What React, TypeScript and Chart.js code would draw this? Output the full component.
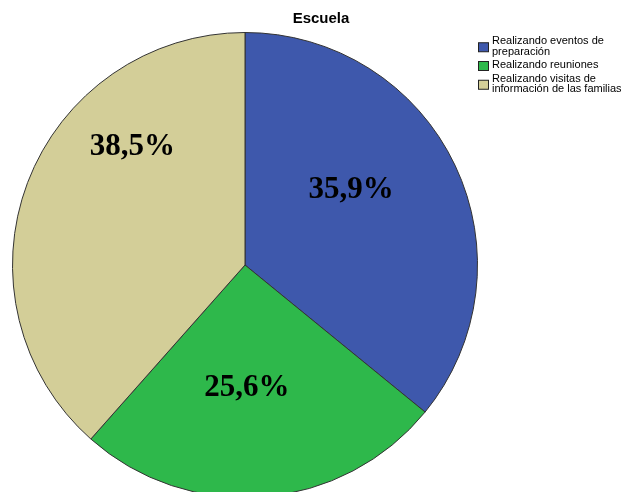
import React, { useEffect, useRef } from "react";
import { Chart, registerables } from "chart.js";

Chart.register(...registerables);

const title = "Escuela";
const categories = [
  ["Realizando eventos de", "preparación"],
  ["Realizando reuniones"],
  ["Realizando visitas de", "información de las familias"],
];
const counts = [14, 10, 15];
const percentLabels = ["35,9%", "25,6%", "38,5%"];
const colors = ["#3e58ac", "#2eb84b", "#d3ce98"];

const W = 621;
const H = 498;

const labelPlacement = [
  { shift: -10, frac: 0.56 },
  { shift: 3.7, frac: 0.53 },
  { shift: 25.5, frac: 0.7 },
];

const overlayPlugin = {
  id: "overlay",
  afterDatasetsDraw(chart: any) {
    const ctx = chart.ctx;
    const meta = chart.getDatasetMeta(0);
    ctx.save();
    // slice percent labels
    ctx.font = "bold 31px 'Liberation Serif', 'Times New Roman', serif";
    ctx.fillStyle = "#000";
    ctx.textAlign = "center";
    ctx.textBaseline = "middle";
    meta.data.forEach((arc: any, i: number) => {
      const p = arc.getProps(["x", "y", "startAngle", "endAngle", "outerRadius"], true);
      const mid = (p.startAngle + p.endAngle) / 2 + (labelPlacement[i].shift * Math.PI) / 180;
      const r = p.outerRadius * labelPlacement[i].frac;
      ctx.fillText(percentLabels[i], p.x + Math.cos(mid) * r, p.y + Math.sin(mid) * r);
    });
    // title
    ctx.font = "bold 15px 'Liberation Sans', Arial, sans-serif";
    ctx.fillText(title, 321, 19);
    // legend
    ctx.font = "11px 'Liberation Sans', Arial, sans-serif";
    ctx.textAlign = "left";
    let y = 41;
    const lineH = 10.5;
    categories.forEach((lines, i) => {
      const blockH = (lines.length - 1) * lineH;
      const boxCy = y + blockH / 2 + 1;
      ctx.fillStyle = colors[i];
      ctx.fillRect(478.5, boxCy - 4.5, 10, 9);
      ctx.strokeStyle = "#222";
      ctx.lineWidth = 1;
      ctx.strokeRect(478.5, boxCy - 4.5, 10, 9);
      ctx.fillStyle = "#000";
      lines.forEach((t, k) => ctx.fillText(t, 492, y + k * lineH));
      y += blockH + 13.5;
    });
    ctx.restore();
  },
};

export default function App() {
  const ref = useRef<HTMLCanvasElement>(null);
  useEffect(() => {
    document.body.style.margin = "0";
    const chart = new Chart(ref.current!, {
      type: "pie",
      data: {
        labels: categories.map((c) => c.join(" ")),
        datasets: [
          {
            data: counts,
            backgroundColor: colors,
            borderColor: "#333",
            borderWidth: 1,
          },
        ],
      },
      options: {
        responsive: false,
        animation: false,
        layout: { padding: { left: 12, right: 143, top: 32, bottom: 0 } },
        plugins: {
          legend: { display: false },
          tooltip: { enabled: false },
          title: { display: false },
        },
      },
      plugins: [overlayPlugin],
    });
    return () => chart.destroy();
  }, []);
  return (
    <div style={{ width: W, height: H }}>
      <canvas ref={ref} width={W} height={H} style={{ display: "block" }} />
    </div>
  );
}
